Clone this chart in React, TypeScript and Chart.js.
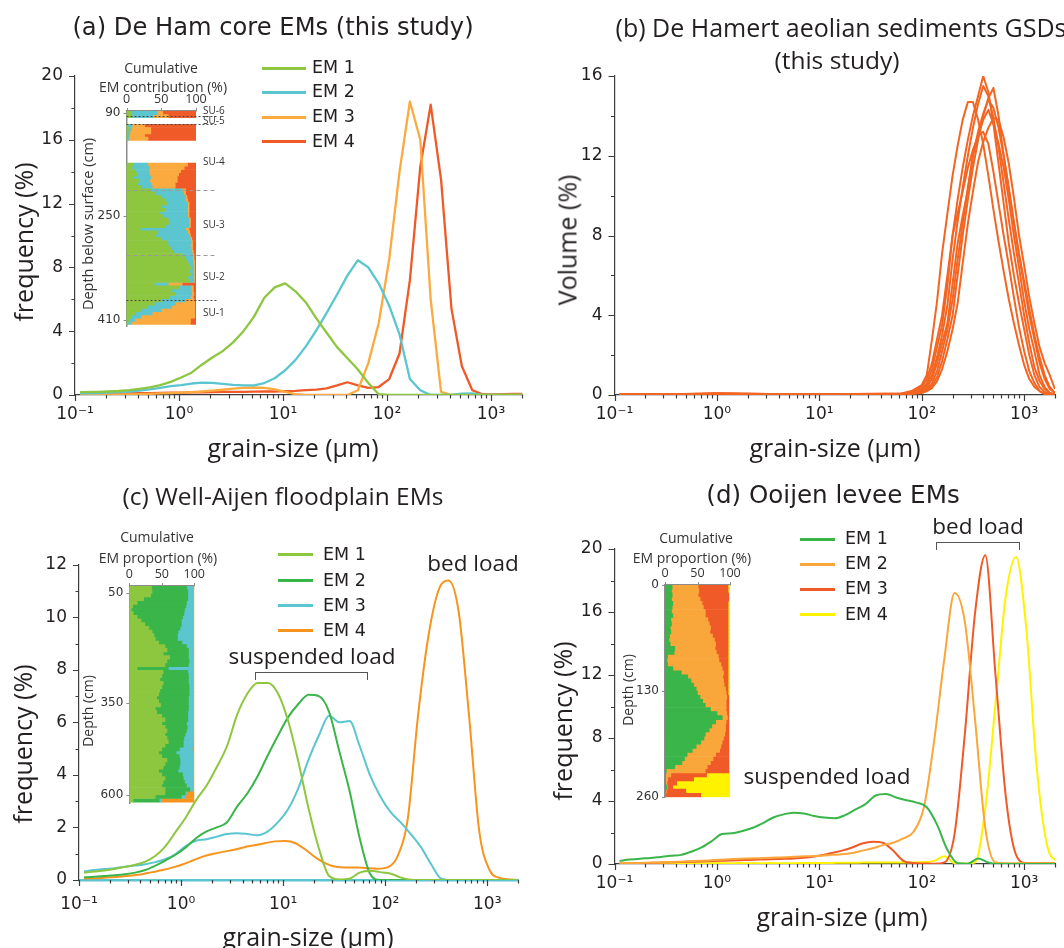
import React, { useEffect, useRef } from 'react';
import { Chart, registerables } from 'chart.js';

Chart.register(...registerables);

// ---------------- fonts / colours ----------------
const SANS = '"DejaVu Sans", sans-serif';
const MYR = '"Open Sans", sans-serif';
const INK = '#231F20';
const AXIS = '#3c3c3c';

// ---------------- axis labels ----------------
const decades = [0.1, 1, 10, 100, 1000];
const decadeLabels = ['10⁻¹', '10⁰', '10¹', '10²', '10³'];
const emLabels = ['EM 1', 'EM 2', 'EM 3', 'EM 4'];

// ---------------- grain-size grids (µm) ----------------
const grainSizes = [0.112, 0.141, 0.178, 0.224, 0.282, 0.355, 0.447, 0.562, 0.708, 0.891, 1.12, 1.41, 1.78, 2.24, 2.82, 3.55, 4.47, 5.62, 7.08, 8.91, 11.2, 14.1, 17.8, 22.4, 28.2, 35.5, 44.7, 56.2, 70.8, 89.1, 112, 141, 178, 224, 282, 355, 447, 562, 708, 891, 1122, 1413, 1778, 1995];
const grainSizesB = [0.112, 0.166, 0.209, 0.263, 0.331, 0.417, 0.525, 0.661, 0.832, 1.05, 1.32, 1.66, 2.09, 2.63, 3.31, 4.17, 5.25, 6.61, 8.32, 10.5, 13.2, 16.6, 20.9, 26.3, 33.1, 41.7, 52.5, 66.1, 83.2, 105, 132, 166, 209, 263, 331, 417, 525, 661, 832, 1047, 1318, 1660, 2089, 2630];

// (a) De Ham core EMs (frequency %), on grainSizesB
const emA1 = [0.18, 0.2, 0.22, 0.25, 0.3, 0.38, 0.48, 0.62, 0.82, 1.1, 1.4, 1.9, 2.35, 2.75, 3.3, 4.0, 4.9, 6.1, 6.75, 7.0, 6.5, 5.8, 4.8, 3.9, 3.0, 2.3, 1.6, 0.75, 0.05, 0, 0, 0, 0, 0, 0, 0, 0, 0, 0, 0, 0, 0, 0, 0];
const emA2 = [0.1, 0.12, 0.15, 0.18, 0.22, 0.28, 0.35, 0.45, 0.55, 0.62, 0.72, 0.78, 0.76, 0.7, 0.63, 0.6, 0.6, 0.75, 1.05, 1.55, 2.2, 3.05, 4.05, 5.15, 6.3, 7.5, 8.45, 8.0, 7.0, 5.6, 3.8, 1.0, 0.3, 0, 0, 0, 0.08, 0.1, 0, 0, 0, 0, 0, 0];
const emA3 = [0.02, 0.02, 0.03, 0.03, 0.04, 0.05, 0.07, 0.1, 0.12, 0.15, 0.18, 0.22, 0.27, 0.33, 0.4, 0.45, 0.47, 0.45, 0.35, 0.2, 0.05, 0, 0, 0, 0, 0, 0.3, 2.0, 4.5, 8.5, 14.0, 18.4, 16.0, 6.0, 0.2, 0, 0, 0, 0, 0, 0, 0, 0, 0];
const emA4 = [0.02, 0.04, 0.06, 0.08, 0.1, 0.11, 0.12, 0.13, 0.14, 0.15, 0.16, 0.17, 0.18, 0.19, 0.2, 0.2, 0.21, 0.22, 0.22, 0.24, 0.26, 0.3, 0.34, 0.42, 0.6, 0.8, 0.6, 0.45, 0.5, 1.0, 2.6, 7.2, 14.3, 18.2, 13.5, 5.4, 1.8, 0.3, 0.05, 0.04, 0.05, 0.07, 0.06, 0.04];

// (b) De Hamert aeolian sediment GSDs (volume %)
const bSizes = [0.112, 0.316, 1, 3.16, 10, 31.6, 63.1, 79.4, 100, 112, 126, 141, 158, 178, 200, 224, 251, 282, 316, 355, 398, 447, 501, 562, 631, 708, 794, 891, 1000, 1122, 1259, 1413, 1585, 1778, 1995];
const gsdB1 = [0.02, 0.03, 0.06, 0.04, 0.03, 0.05, 0.08, 0.2, 0.5, 1.0, 2.8, 4.7, 7.1, 9.1, 11.0, 12.5, 13.8, 14.7, 14.7, 13.8, 12.6, 11.0, 9.3, 7.7, 6.2, 4.8, 3.6, 2.5, 1.5, 0.8, 0.4, 0.2, 0.05, 0.02, 0.01];
const gsdB2 = [0.02, 0.04, 0.07, 0.05, 0.03, 0.04, 0.05, 0.1, 0.3, 0.6, 1.3, 2.4, 3.5, 5.5, 8.0, 9.8, 11.4, 12.8, 14.0, 15.0, 16.0, 15.2, 13.6, 11.6, 9.6, 7.6, 6.0, 4.6, 3.3, 2.0, 1.0, 0.4, 0.15, 0.05, 0.02];
const gsdB3 = [0.01, 0.03, 0.06, 0.04, 0.02, 0.03, 0.03, 0.06, 0.15, 0.25, 0.45, 0.9, 1.7, 2.8, 4.0, 6.0, 8.0, 9.8, 11.4, 12.8, 14.0, 14.9, 15.4, 14.0, 12.0, 10.3, 8.6, 7.0, 5.5, 4.0, 2.8, 1.6, 0.8, 0.3, 0.1];
const gsdB4 = [0.02, 0.03, 0.05, 0.04, 0.03, 0.04, 0.04, 0.08, 0.2, 0.4, 0.8, 1.6, 2.6, 3.6, 5.6, 7.6, 9.0, 10.3, 12.0, 13.0, 13.8, 14.3, 13.6, 12.6, 11.4, 9.8, 8.0, 6.4, 4.7, 3.3, 2.2, 1.0, 0.4, 0.1, 0.03];
const gsdB5 = [0.03, 0.04, 0.08, 0.05, 0.03, 0.06, 0.06, 0.15, 0.4, 0.8, 1.6, 2.8, 4.0, 6.0, 8.0, 9.1, 10.2, 11.4, 12.3, 13.0, 13.2, 12.6, 11.2, 9.6, 8.0, 6.5, 4.9, 3.4, 2.2, 1.2, 0.6, 0.2, 0.06, 0.02, 0.01];
const gsdB6 = [0.02, 0.03, 0.06, 0.05, 0.03, 0.04, 0.03, 0.07, 0.18, 0.3, 0.6, 1.2, 2.2, 3.3, 4.8, 6.8, 8.6, 10.4, 12.0, 13.2, 14.1, 14.8, 14.4, 13.4, 12.0, 10.4, 8.7, 7.1, 5.7, 4.3, 3.0, 1.9, 1.0, 0.4, 0.1];
const gsdB7 = [0.01, 0.02, 0.05, 0.04, 0.02, 0.03, 0.02, 0.05, 0.1, 0.2, 0.35, 0.7, 1.3, 2.2, 3.3, 4.6, 6.6, 8.6, 10.2, 11.7, 12.7, 13.4, 13.9, 13.8, 12.9, 11.6, 9.9, 8.0, 6.5, 4.9, 3.6, 2.4, 1.6, 1.0, 0.3];
const gsdB8 = [0.02, 0.03, 0.07, 0.05, 0.03, 0.05, 0.04, 0.09, 0.25, 0.5, 1.0, 1.9, 3.0, 4.5, 6.8, 8.7, 10.4, 12.0, 13.4, 14.6, 15.5, 15.0, 13.9, 12.4, 10.6, 8.8, 7.1, 5.6, 4.0, 2.6, 1.4, 0.7, 0.3, 0.1, 0.03];

// (c) Well-Aijen floodplain EMs (EM 1-3 on grainSizes, EM 4 on grainSizesB)
const emC1 = [0.28, 0.32, 0.36, 0.42, 0.5, 0.58, 0.7, 0.92, 1.3, 1.85, 2.4, 3.05, 3.6, 4.3, 5.1, 6.3, 7.1, 7.5, 7.5, 7.1, 6.05, 4.5, 2.7, 1.2, 0.15, 0.02, 0.05, 0.28, 0.35, 0.3, 0.25, 0.1, 0.01, 0, 0, 0, 0, 0, 0, 0, 0, 0, 0, 0];
const emC2 = [0.1, 0.12, 0.15, 0.18, 0.22, 0.28, 0.38, 0.55, 0.75, 0.97, 1.25, 1.6, 1.85, 2.0, 2.2, 2.8, 3.3, 3.95, 4.75, 5.5, 6.2, 6.7, 7.05, 7.0, 6.4, 4.9, 3.4, 1.6, 0.25, 0, 0, 0, 0, 0, 0, 0, 0, 0, 0, 0, 0, 0, 0, 0];
const emC3 = [0.33, 0.38, 0.42, 0.45, 0.5, 0.55, 0.6, 0.68, 0.8, 1.0, 1.3, 1.5, 1.55, 1.65, 1.75, 1.78, 1.75, 1.7, 1.85, 2.2, 2.7, 3.5, 4.6, 5.5, 6.25, 6.0, 6.05, 5.1, 4.0, 3.2, 2.6, 2.2, 1.75, 1.25, 0.6, 0.05, 0, 0, 0, 0, 0, 0, 0, 0];
const emC4 = [0.06, 0.08, 0.1, 0.13, 0.17, 0.22, 0.3, 0.38, 0.48, 0.6, 0.75, 0.9, 1.0, 1.08, 1.15, 1.25, 1.32, 1.4, 1.47, 1.48, 1.4, 1.15, 0.85, 0.62, 0.5, 0.48, 0.48, 0.45, 0.43, 0.48, 0.9, 2.3, 6.2, 9.2, 11.0, 11.4, 10.2, 6.3, 1.9, 0.4, 0.08, 0.02, 0, 0];

// (d) Ooijen levee EMs (EM 1 on grainSizes, EM 2-4 on grainSizesB)
const emD1 = [0.2, 0.28, 0.34, 0.38, 0.45, 0.52, 0.58, 0.78, 1.05, 1.45, 1.9, 1.95, 2.1, 2.3, 2.6, 2.95, 3.15, 3.25, 3.2, 3.05, 2.95, 2.9, 3.1, 3.45, 3.8, 4.35, 4.45, 4.22, 4.05, 3.9, 3.6, 2.5, 0.9, 0.05, 0.02, 0.35, 0.1, 0, 0, 0, 0, 0, 0, 0];
const emD2 = [0.06, 0.07, 0.08, 0.1, 0.12, 0.14, 0.17, 0.2, 0.23, 0.27, 0.3, 0.33, 0.35, 0.37, 0.39, 0.42, 0.45, 0.48, 0.5, 0.53, 0.58, 0.62, 0.7, 0.85, 1.0, 1.2, 1.35, 1.62, 2.05, 3.6, 7.8, 13.0, 17.2, 15.4, 9.2, 2.3, 0.1, 0.05, 0.05, 0.05, 0.05, 0.05, 0.05, 0.05];
const emD3 = [0.04, 0.05, 0.06, 0.08, 0.1, 0.12, 0.14, 0.16, 0.18, 0.2, 0.22, 0.24, 0.26, 0.28, 0.3, 0.32, 0.34, 0.38, 0.45, 0.55, 0.7, 0.85, 1.05, 1.3, 1.42, 1.35, 0.85, 0.2, 0.06, 0.03, 0.02, 0.1, 1.9, 8.2, 15.9, 19.6, 12.0, 4.3, 0.6, 0.06, 0.05, 0.05, 0.05, 0.05];
const emD4 = [0.04, 0.05, 0.05, 0.06, 0.05, 0.05, 0.06, 0.05, 0.05, 0.06, 0.05, 0.06, 0.05, 0.05, 0.06, 0.05, 0.05, 0.06, 0.06, 0.07, 0.07, 0.08, 0.08, 0.09, 0.1, 0.1, 0.1, 0.1, 0.1, 0.12, 0.2, 0.5, 0.05, 0.03, 0.1, 3.5, 10.2, 17.0, 19.5, 15.0, 6.3, 1.3, 0.2, 0.05];

// ---------------- inset (a): cumulative EM contribution by depth ----------------
const depthA = [90, 95, 110, 115, 120, 125, 130, 170, 175, 180, 185, 190, 195, 200, 205, 210, 215, 220, 225, 230, 235, 240, 245, 250, 255, 260, 265, 270, 275, 280, 285, 290, 295, 300, 305, 310, 315, 320, 325, 330, 335, 340, 345, 350, 355, 360, 365, 370, 375, 380, 385, 390, 395, 400, 405, 410, 415];
const propA1 = [6, 8, 2, 3, 2, 2, 1, 10, 8, 12, 15, 10, 18, 15, 22, 35, 42, 50, 55, 58, 50, 55, 48, 52, 60, 62, 55, 20, 45, 42, 50, 58, 60, 65, 68, 80, 85, 88, 90, 92, 90, 92, 88, 90, 40, 75, 65, 70, 62, 50, 40, 30, 20, 12, 6, 4, 2];
const propA2 = [38, 30, 6, 4, 3, 2, 2, 20, 25, 20, 18, 25, 15, 20, 15, 45, 40, 35, 30, 30, 38, 32, 40, 36, 30, 28, 35, 65, 43, 48, 42, 35, 32, 28, 26, 15, 10, 8, 6, 5, 6, 5, 8, 7, 20, 18, 28, 24, 30, 35, 30, 35, 30, 25, 15, 8, 5];
const propA3 = [8, 22, 18, 28, 30, 22, 28, 58, 50, 46, 42, 38, 40, 35, 33, 5, 3, 2, 3, 2, 2, 3, 2, 2, 2, 2, 2, 5, 3, 2, 2, 2, 3, 2, 2, 2, 2, 2, 2, 1, 2, 1, 2, 1, 20, 3, 3, 3, 4, 12, 28, 33, 48, 61, 77, 80, 85];
const propA4 = [48, 40, 74, 65, 65, 74, 69, 12, 17, 22, 25, 27, 27, 30, 30, 15, 15, 13, 12, 10, 10, 10, 10, 10, 8, 8, 8, 10, 9, 8, 6, 5, 5, 5, 4, 3, 3, 2, 2, 2, 2, 2, 2, 2, 20, 4, 4, 3, 4, 3, 2, 2, 2, 2, 2, 8, 8];
const depthTicksA = [90, 250, 410];
const suLabels = ['SU-6', 'SU-5', 'SU-4', 'SU-3', 'SU-2', 'SU-1'];
const suLabelDepths = [87, 103, 166, 263, 344, 400];
const suBoundaryDepths = [94.6, 106.8, 209, 310, 380];
const suBoundaryDark = [true, true, false, false, true];

// ---------------- inset (c) ----------------
const depthC = [35, 45, 55, 65, 75, 85, 95, 105, 115, 125, 135, 145, 155, 165, 175, 185, 195, 205, 215, 225, 235, 245, 255, 265, 275, 285, 295, 305, 315, 325, 335, 345, 355, 365, 375, 385, 395, 405, 415, 425, 435, 445, 455, 465, 475, 485, 495, 505, 515, 525, 535, 545, 555, 565, 575, 585, 595, 605, 615];
const propC1 = [34, 35, 33, 22, 12, 5, 3, 6, 12, 18, 24, 30, 35, 38, 40, 45, 55, 58, 52, 62, 58, 55, 12, 52, 50, 47, 52, 50, 47, 45, 42, 45, 48, 40, 42, 50, 55, 50, 55, 58, 55, 58, 60, 55, 50, 45, 50, 58, 55, 52, 45, 50, 55, 52, 50, 55, 55, 40, 6];
const propC2 = [54, 55, 57, 68, 76, 82, 82, 78, 70, 62, 56, 48, 40, 36, 34, 36, 33, 33, 39, 29, 34, 36, 48, 38, 41, 44, 39, 42, 45, 47, 49, 46, 43, 51, 48, 40, 35, 38, 34, 30, 31, 26, 23, 28, 27, 27, 27, 20, 23, 25, 30, 32, 28, 33, 38, 38, 31, 40, 40];
const propC3 = [11, 9, 9, 9, 11, 12, 14, 15, 17, 19, 19, 21, 24, 25, 25, 18, 11, 8, 8, 8, 7, 8, 39, 9, 8, 8, 8, 7, 7, 7, 8, 8, 8, 8, 9, 9, 9, 11, 10, 11, 12, 14, 15, 15, 20, 26, 21, 20, 20, 21, 23, 16, 15, 13, 10, 5, 2, 6, 4];
const propC4 = [1, 1, 1, 1, 1, 1, 1, 1, 1, 1, 1, 1, 1, 1, 1, 1, 1, 1, 1, 1, 1, 1, 1, 1, 1, 1, 1, 1, 1, 1, 1, 1, 1, 1, 1, 1, 1, 1, 1, 1, 2, 2, 2, 2, 3, 2, 2, 2, 2, 2, 2, 2, 2, 2, 2, 2, 12, 14, 50];
const depthTicksC = [50, 350, 600];

// ---------------- inset (d) ----------------
const depthD = [2.5, 7.5, 12.5, 17.5, 22.5, 27.5, 32.5, 37.5, 42.5, 47.5, 52.5, 57.5, 62.5, 67.5, 72.5, 77.5, 82.5, 87.5, 92.5, 97.5, 102.5, 107.5, 112.5, 117.5, 122.5, 127.5, 132.5, 137.5, 142.5, 147.5, 152.5, 157.5, 162.5, 167.5, 172.5, 177.5, 182.5, 187.5, 192.5, 197.5, 202.5, 207.5, 212.5, 217.5, 222.5, 227.5, 232.5, 237.5, 242.5, 247.5, 252.5, 257.5];
const propD1 = [11, 10, 11, 10, 12, 11, 10, 12, 9, 10, 8, 9, 7, 6, 8, 15, 14, 4, 3, 4, 12, 25, 35, 40, 44, 48, 50, 54, 58, 62, 70, 80, 88, 78, 72, 68, 62, 60, 55, 48, 42, 34, 30, 26, 15, 2, 1, 1, 1, 3, 1, 0];
const propD2 = [40, 42, 40, 44, 45, 48, 52, 50, 57, 58, 62, 60, 66, 70, 70, 62, 65, 78, 80, 82, 76, 65, 54, 50, 47, 45, 44, 41, 36, 32, 24, 15, 8, 16, 21, 25, 30, 30, 33, 38, 42, 44, 44, 44, 50, 60, 8, 3, 2, 1, 1, 0];
const propD3 = [46, 45, 47, 44, 40, 38, 35, 35, 31, 29, 27, 28, 24, 21, 19, 20, 18, 15, 14, 11, 9, 7, 8, 7, 6, 4, 3, 3, 4, 4, 4, 3, 2, 4, 5, 5, 6, 8, 10, 12, 14, 20, 24, 28, 33, 36, 55, 40, 15, 8, 30, 55];
const propD4 = [3, 3, 2, 2, 3, 3, 3, 3, 3, 3, 3, 3, 3, 3, 3, 3, 3, 3, 3, 3, 3, 3, 3, 3, 3, 3, 3, 2, 2, 2, 2, 2, 2, 2, 2, 2, 2, 2, 2, 2, 2, 2, 2, 2, 2, 2, 36, 56, 82, 88, 68, 45];
const depthTicksD = [0, 130, 260];

// ---------------- colours ----------------
const colorsA = ['#8DC63F', '#5BC5D0', '#FBAA3F', '#F05A28'];
const colorB = '#F26522';
const colorsC = ['#8DC63F', '#39B54A', '#5BC5D0', '#F7941D'];
const colorsD = ['#39B54A', '#F9A63A', '#F05A28', '#FFF200'];

// ---------------- helpers ----------------
function logTickValues(): number[] {
  const out: number[] = [];
  decades.forEach((d) => {
    for (let m = 1; m <= 9; m++) {
      const v = d * m;
      if (v <= 2000.0001) out.push(v);
    }
  });
  return out;
}

function decadeIndex(v: number): number {
  for (let i = 0; i < decades.length; i++) {
    if (Math.abs(v - decades[i]) / decades[i] < 1e-6) return i;
  }
  return -1;
}

function makeMainTicks(yMajor: number) {
  return {
    id: 'mainTicks',
    afterDraw(chart: any) {
      const { ctx, chartArea } = chart;
      const xs = chart.scales.x;
      const ys = chart.scales.y;
      ctx.save();
      ctx.strokeStyle = AXIS;
      ctx.lineWidth = 1.2;
      ctx.beginPath();
      xs.ticks.forEach((t: any) => {
        const px = Math.round(xs.getPixelForValue(t.value)) + 0.5;
        const len = decadeIndex(t.value) >= 0 ? 6 : 3.5;
        ctx.moveTo(px, chartArea.bottom);
        ctx.lineTo(px, chartArea.bottom + len);
      });
      ys.ticks.forEach((t: any) => {
        const py = Math.round(ys.getPixelForValue(t.value)) + 0.5;
        const r = t.value / yMajor;
        const len = Math.abs(r - Math.round(r)) < 1e-6 ? 6 : 3.5;
        ctx.moveTo(chartArea.left, py);
        ctx.lineTo(chartArea.left - len, py);
      });
      ctx.stroke();
      ctx.restore();
    },
  };
}

type Series = { label: string; sizes: number[]; values: number[]; color: string; width: number };

function buildMain(canvas: HTMLCanvasElement, cfg: any) {
  const { w, h, area, yMax, yMinor, yMajor, series, tension } = cfg;
  const xH = h - area.b;
  return new Chart(canvas, {
    type: 'line',
    data: {
      datasets: (series as Series[]).map((s) => ({
        label: s.label,
        data: s.sizes.map((x, i) => ({ x, y: s.values[i] })),
        borderColor: s.color,
        backgroundColor: s.color,
        borderWidth: s.width,
        pointRadius: 0,
        fill: false,
        tension: tension,
        cubicInterpolationMode: tension > 0 ? 'monotone' : 'default',
        borderJoinStyle: 'round',
      })),
    },
    options: {
      responsive: false,
      animation: false,
      devicePixelRatio: 1,
      events: [],
      layout: { padding: { left: 0, top: area.t, right: w - area.r, bottom: 0 } },
      plugins: { legend: { display: false }, tooltip: { enabled: false }, title: { display: false } },
      scales: {
        x: {
          type: 'logarithmic',
          position: 'bottom',
          min: 0.1,
          max: 2000,
          afterFit: (s: any) => { s.height = xH; },
          afterBuildTicks: (s: any) => { s.ticks = logTickValues().map((v) => ({ value: v })); },
          grid: { display: false, drawTicks: false },
          border: { display: true, color: cfg.xBorderColor || AXIS, width: cfg.xBorderWidth || 1.2 },
          ticks: {
            autoSkip: false,
            maxRotation: 0,
            padding: cfg.xPad || 9,
            color: INK,
            font: { family: SANS, size: 17 },
            callback: (v: any) => {
              const i = decadeIndex(Number(v));
              return i >= 0 ? decadeLabels[i] : '';
            },
          },
        },
        y: {
          type: 'linear',
          min: 0,
          max: yMax,
          afterFit: (s: any) => { s.width = area.l; },
          grid: { display: false, drawTicks: false },
          border: { display: true, color: AXIS, width: 1.2 },
          ticks: {
            stepSize: yMinor,
            autoSkip: false,
            padding: 12,
            color: INK,
            font: { family: SANS, size: 17 },
            callback: (v: any) => {
              const r = Number(v) / yMajor;
              return Math.abs(r - Math.round(r)) < 1e-6 ? String(v) : '';
            },
          },
        },
      },
    } as any,
    plugins: [makeMainTicks(yMajor)],
  });
}

function makeInsetTicks(extra?: (chart: any) => void) {
  return {
    id: 'insetTicks',
    afterDraw(chart: any) {
      const { ctx, chartArea } = chart;
      const xs = chart.scales.x;
      const ys = chart.scales.y;
      ctx.save();
      ctx.strokeStyle = '#8c8c8c';
      ctx.lineWidth = 1;
      ctx.beginPath();
      xs.ticks.forEach((t: any) => {
        const px = Math.round(xs.getPixelForValue(t.value)) + 0.5;
        ctx.moveTo(px, chartArea.top);
        ctx.lineTo(px, chartArea.top - 3);
      });
      ys.ticks.forEach((t: any) => {
        const py = Math.round(ys.getPixelForValue(t.value)) + 0.5;
        ctx.moveTo(chartArea.left, py);
        ctx.lineTo(chartArea.left - 3, py);
      });
      ctx.stroke();
      ctx.restore();
      if (extra) extra(chart);
    },
  };
}

function buildInset(canvas: HTMLCanvasElement, cfg: any) {
  const { w, h, area, depths, props, colors, yMin, yMax, yTicks, extra } = cfg;
  return new Chart(canvas, {
    type: 'bar',
    data: {
      datasets: (props as number[][]).map((arr, k) => ({
        label: emLabels[k],
        data: (depths as number[]).map((d, i) => ({ x: arr[i], y: d })),
        backgroundColor: colors[k],
        borderWidth: 0,
        barPercentage: 1,
        categoryPercentage: 1,
      })),
    },
    options: {
      indexAxis: 'y',
      responsive: false,
      animation: false,
      devicePixelRatio: 1,
      events: [],
      layout: { padding: { left: 0, top: 0, right: w - area.r, bottom: h - area.b } },
      plugins: { legend: { display: false }, tooltip: { enabled: false } },
      scales: {
        x: {
          type: 'linear',
          position: 'top',
          min: 0,
          max: 100,
          stacked: true,
          afterFit: (s: any) => { s.height = area.t; },
          grid: { display: false, drawTicks: false },
          border: { display: true, color: '#8c8c8c', width: 1.5 },
          ticks: { stepSize: 50, padding: 4, autoSkip: false, maxRotation: 0, color: '#333', font: { family: MYR, size: 12.5 } },
        },
        y: {
          type: 'linear',
          reverse: true,
          offset: false,
          min: yMin,
          max: yMax,
          stacked: true,
          afterFit: (s: any) => { s.width = area.l; },
          afterBuildTicks: (s: any) => { s.ticks = (yTicks as number[]).map((v) => ({ value: v })); },
          grid: { display: false, drawTicks: false, offset: false },
          border: { display: true, color: '#8c8c8c', width: 1.5 },
          ticks: { padding: 6, autoSkip: false, color: '#333', font: { family: SANS, size: 12 } },
        },
      },
    } as any,
    plugins: [makeInsetTicks(extra)],
  });
}

function drawSU(chart: any) {
  const { ctx, chartArea } = chart;
  const ys = chart.scales.y;
  ctx.save();
  suBoundaryDepths.forEach((d, i) => {
    const py = Math.round(ys.getPixelForValue(d)) + 0.5;
    ctx.beginPath();
    ctx.strokeStyle = suBoundaryDark[i] ? '#4a4a4a' : '#9a9a9a';
    ctx.lineWidth = 1;
    ctx.setLineDash(suBoundaryDark[i] ? [2, 2] : [4, 3]);
    ctx.moveTo(chartArea.left, py);
    ctx.lineTo(chartArea.right + 21, py);
    ctx.stroke();
  });
  ctx.setLineDash([]);
  ctx.fillStyle = '#333';
  ctx.font = '10px "Open Sans", sans-serif';
  ctx.textAlign = 'left';
  ctx.textBaseline = 'middle';
  suLabels.forEach((s, i) => {
    ctx.fillText(s, chartArea.right + 7, ys.getPixelForValue(suLabelDepths[i]));
  });
  ctx.restore();
}

// ---------------- UI pieces ----------------
function Txt(p: { x: number; y: number; s: number; f: string; t: string; rot?: boolean; c?: string }) {
  return (
    <div
      style={{
        position: 'absolute',
        left: p.x,
        top: p.y,
        transform: `translate(-50%, -50%)${p.rot ? ' rotate(-90deg)' : ''}`,
        fontSize: p.s,
        fontFamily: p.f,
        lineHeight: 1,
        whiteSpace: 'nowrap',
        color: p.c || INK,
      }}
    >
      {p.t}
    </div>
  );
}

function Legend(p: { x1: number; x2: number; tx: number; ys: number[]; colors: string[] }) {
  return (
    <>
      {emLabels.map((lab, i) => (
        <React.Fragment key={lab}>
          <div style={{ position: 'absolute', left: p.x1, top: p.ys[i] - 1.5, width: p.x2 - p.x1, height: 3, background: p.colors[i] }} />
          <div
            style={{
              position: 'absolute',
              left: p.tx,
              top: p.ys[i],
              transform: 'translateY(-50%)',
              fontFamily: SANS,
              fontSize: 17.5,
              lineHeight: 1,
              whiteSpace: 'nowrap',
              color: INK,
            }}
          >
            {lab}
          </div>
        </React.Fragment>
      ))}
    </>
  );
}

function Bracket(p: { x1: number; x2: number; y: number }) {
  return (
    <div
      style={{
        position: 'absolute',
        left: p.x1,
        top: p.y,
        width: p.x2 - p.x1,
        height: 8,
        borderTop: '1.3px solid #555',
        borderLeft: '1.3px solid #555',
        borderRight: '1.3px solid #555',
        boxSizing: 'border-box',
      }}
    />
  );
}

const PANEL_W = 532;
const PANEL_H = 474;

export default function App() {
  const refA = useRef<HTMLCanvasElement>(null);
  const refB = useRef<HTMLCanvasElement>(null);
  const refC = useRef<HTMLCanvasElement>(null);
  const refD = useRef<HTMLCanvasElement>(null);
  const refIA = useRef<HTMLCanvasElement>(null);
  const refIC = useRef<HTMLCanvasElement>(null);
  const refID = useRef<HTMLCanvasElement>(null);

  useEffect(() => {
    const charts: Chart[] = [];
    const g = grainSizes;
    const gB = grainSizesB;
    charts.push(
      buildMain(refA.current!, {
        w: PANEL_W, h: PANEL_H, area: { l: 75, t: 76, r: 522.3, b: 395 },
        yMax: 20, yMinor: 2, yMajor: 4, tension: 0,
        series: [
          { label: 'EM 1', sizes: gB, values: emA1, color: colorsA[0], width: 2.3 },
          { label: 'EM 2', sizes: gB, values: emA2, color: colorsA[1], width: 2.3 },
          { label: 'EM 3', sizes: gB, values: emA3, color: colorsA[2], width: 2.3 },
          { label: 'EM 4', sizes: gB, values: emA4, color: colorsA[3], width: 2.3 },
        ],
      })
    );
    const bSeries = [gsdB1, gsdB2, gsdB3, gsdB4, gsdB5, gsdB6, gsdB7, gsdB8];
    charts.push(
      buildMain(refB.current!, {
        w: PANEL_W, h: PANEL_H, area: { l: 82.5, t: 76, r: 529.8, b: 395 },
        yMax: 16, yMinor: 2, yMajor: 4, tension: 0,
        series: bSeries.map((v, i) => ({ label: 'GSD ' + (i + 1), sizes: bSizes, values: v, color: colorB, width: 2 })),
      })
    );
    charts.push(
      buildMain(refC.current!, {
        w: PANEL_W, h: PANEL_H, area: { l: 79, t: 90.7, r: 528.4, b: 406 },
        yMax: 12, yMinor: 1, yMajor: 2, tension: 0.4, xPad: 14,
        xBorderColor: '#5BC5D0', xBorderWidth: 2.5,
        series: [
          { label: 'EM 1', sizes: g, values: emC1, color: colorsC[0], width: 2 },
          { label: 'EM 2', sizes: g, values: emC2, color: colorsC[1], width: 2 },
          { label: 'EM 3', sizes: g, values: emC3, color: colorsC[2], width: 2 },
          { label: 'EM 4', sizes: gB, values: emC4, color: colorsC[3], width: 2 },
        ],
      })
    );
    charts.push(
      buildMain(refD.current!, {
        w: PANEL_W, h: PANEL_H, area: { l: 82.5, t: 75, r: 529.8, b: 390 },
        yMax: 20, yMinor: 2, yMajor: 4, tension: 0.4,
        series: [
          { label: 'EM 1', sizes: g, values: emD1, color: colorsD[0], width: 2 },
          { label: 'EM 2', sizes: gB, values: emD2, color: colorsD[1], width: 2 },
          { label: 'EM 3', sizes: gB, values: emD3, color: colorsD[2], width: 2 },
          { label: 'EM 4', sizes: gB, values: emD4, color: colorsD[3], width: 2 },
        ],
      })
    );
    charts.push(
      buildInset(refIA.current!, {
        w: 160, h: 290, area: { l: 46.5, t: 61, r: 116, b: 280 },
        depths: depthA, props: [propA1, propA2, propA3, propA4], colors: colorsA,
        yMin: 87, yMax: 421, yTicks: depthTicksA, extra: drawSU,
      })
    );
    charts.push(
      buildInset(refIC.current!, {
        w: 160, h: 290, area: { l: 49.3, t: 56, r: 114.3, b: 273.3 },
        depths: depthC, props: [propC1, propC2, propC3, propC4], colors: colorsC,
        yMin: 30, yMax: 623, yTicks: depthTicksC,
      })
    );
    charts.push(
      buildInset(refID.current!, {
        w: 160, h: 290, area: { l: 50, t: 55, r: 115, b: 267.3 },
        depths: depthD, props: [propD1, propD2, propD3, propD4], colors: colorsD,
        yMin: 0, yMax: 260, yTicks: depthTicksD,
      })
    );
    return () => charts.forEach((c) => c.destroy());
  }, []);

  const cv = (ref: any, left: number, top: number, w: number, h: number) => (
    <canvas ref={ref} width={w} height={h} style={{ position: 'absolute', left, top, width: w, height: h }} />
  );

  return (
    <div style={{ position: 'fixed', left: 0, top: 0, width: 1064, height: 948, overflow: 'hidden', background: '#fff' }}>
      {cv(refA, 0, 0, PANEL_W, PANEL_H)}
      {cv(refB, 532, 0, PANEL_W, PANEL_H)}
      {cv(refC, 0, 474, PANEL_W, PANEL_H)}
      {cv(refD, 532, 474, PANEL_W, PANEL_H)}
      {cv(refIA, 80, 50, 160, 290)}
      {cv(refIC, 80, 530, 160, 290)}
      {cv(refID, 615, 530, 160, 290)}

      {/* panel (a) */}
      <Txt x={273} y={27} s={24.2} f={SANS} t="(a) De Ham core EMs (this study)" />
      <Txt x={23} y={242} s={25} f={MYR} t="frequency (%)" rot />
      <Txt x={293} y={447} s={25} f={MYR} t="grain-size (μm)" />
      <Legend x1={262} x2={306} tx={312} ys={[68, 92, 117, 141.5]} colors={colorsA} />
      <Txt x={161} y={68} s={14} f={MYR} t="Cumulative" c="#333" />
      <Txt x={163} y={87} s={14} f={MYR} t="EM contribution (%)" c="#333" />
      <Txt x={88} y={224} s={14.5} f={MYR} t="Depth below surface (cm)" rot c="#333" />

      {/* panel (b) */}
      <Txt x={841} y={27} s={25} f={MYR} t="(b) De Hamert aeolian sediments GSDs" />
      <Txt x={837} y={60} s={24.5} f={MYR} t="(this study)" />
      <Txt x={567} y={240} s={25} f={MYR} t="Volume (%)" rot />
      <Txt x={835} y={447} s={25} f={MYR} t="grain-size (μm)" />

      {/* panel (c) */}
      <Txt x={283} y={496} s={24.5} f={MYR} t="(c) Well-Aijen floodplain EMs" />
      <Txt x={22} y={744} s={25} f={MYR} t="frequency (%)" rot />
      <Txt x={308} y={936} s={25} f={MYR} t="grain-size (μm)" />
      <Legend x1={278} x2={313} tx={323} ys={[554.7, 580.7, 605.7, 630.7]} colors={colorsC} />
      <Txt x={473} y={563} s={22.5} f={MYR} t="bed load" />
      <Txt x={312} y={656} s={22.5} f={MYR} t="suspended load" />
      <Bracket x1={255} x2={368} y={672} />
      <Txt x={157} y={537} s={14} f={MYR} t="Cumulative" c="#333" />
      <Txt x={158} y={558} s={14} f={MYR} t="EM proportion (%)" c="#333" />
      <Txt x={88} y={711} s={14} f={MYR} t="Depth (cm)" rot c="#333" />

      {/* panel (d) */}
      <Txt x={833} y={495} s={24.6} f={SANS} t="(d) Ooijen levee EMs" />
      <Txt x={562} y={721} s={25} f={MYR} t="frequency (%)" rot />
      <Txt x={842} y={916} s={25} f={MYR} t="grain-size (μm)" />
      <Legend x1={800} x2={835} tx={845} ys={[539, 564, 589, 614.7]} colors={colorsD} />
      <Txt x={978} y={526} s={22.5} f={MYR} t="bed load" />
      <Bracket x1={936} x2={1020} y={542} />
      <Txt x={827} y={776} s={22.5} f={MYR} t="suspended load" />
      <Txt x={696} y={538} s={14} f={MYR} t="Cumulative" c="#333" />
      <Txt x={692} y={558} s={14} f={MYR} t="EM proportion (%)" c="#333" />
      <Txt x={628} y={690} s={14} f={MYR} t="Depth (cm)" rot c="#333" />
    </div>
  );
}
